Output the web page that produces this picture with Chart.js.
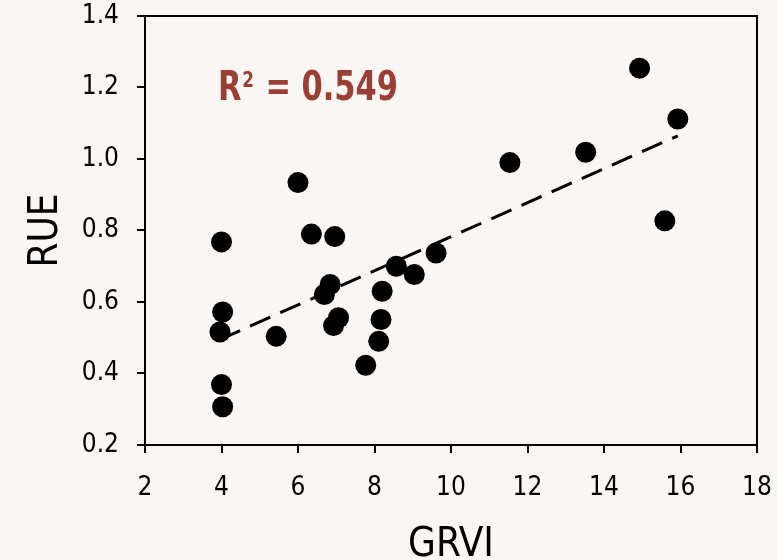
<!DOCTYPE html>
<html>
<head>
<meta charset="utf-8">
<script src="https://cdn.jsdelivr.net/npm/chart.js@4.4.1/dist/chart.umd.min.js"></script>
<style>
  html, body { margin: 0; padding: 0; background: #f9f6f3; }
  #wrap { width: 777px; height: 560px; }
</style>
</head>
<body>
<div id="wrap"><canvas id="rueChart" width="777" height="560"></canvas></div>
<script>
// GRVI vs RUE
const grvi = [4.0, 6.0, 6.35, 6.96, 4.03, 3.96, 5.43, 4.0, 4.03, 6.69, 6.84, 6.93, 7.06,
  8.2, 8.17, 8.11, 7.77, 14.93, 15.93, 13.52, 11.54, 15.59, 9.61, 9.04, 8.57];
const rue = [0.768, 0.934, 0.79, 0.783, 0.572, 0.516, 0.504, 0.369, 0.307, 0.621, 0.649, 0.534, 0.556,
  0.630, 0.551, 0.490, 0.423, 1.254, 1.112, 1.019, 0.990, 0.827, 0.737, 0.677, 0.70];
// ends of the dashed trend line
const trendX = [3.96, 15.93];
const trendY = [0.495, 1.065];
const xTicks = [2, 4, 6, 8, 10, 12, 14, 16, 18];
const yTicks = [0.2, 0.4, 0.6, 0.8, 1.0, 1.2, 1.4];
const r2Label = ["R", "2", " = 0.549"]; // base, superscript, rest

const FONT = "'DejaVu Sans Condensed', 'DejaVu Sans', sans-serif";

const points = grvi.map((x, i) => ({ x: x, y: rue[i] }));
const trend = trendX.map((x, i) => ({ x: x, y: trendY[i] }));

// frame around the plot + R2 text
const framePlugin = {
  id: "frame",
  afterDraw(chart) {
    const { ctx, chartArea: a } = chart;
    ctx.save();
    ctx.strokeStyle = "#000";
    ctx.lineWidth = 2;
    ctx.beginPath();
    ctx.moveTo(a.left, a.top);
    ctx.lineTo(a.right, a.top);
    ctx.lineTo(a.right, a.bottom);
    ctx.stroke();

    ctx.fillStyle = "#9a3f33";
    ctx.textBaseline = "alphabetic";
    const big = "bold 40px " + FONT, small = "bold 22px " + FONT;
    ctx.font = big;
    const w0 = ctx.measureText(r2Label[0]).width, w2 = ctx.measureText(r2Label[2]).width;
    ctx.font = small;
    const w1 = ctx.measureText(r2Label[1]).width + 2;
    ctx.translate(218, 100);
    ctx.scale(180 / (w0 + w1 + w2), 1); // squeeze to the narrow face of the original
    ctx.font = big;
    ctx.fillText(r2Label[0], 0, 0);
    ctx.font = small;
    ctx.fillText(r2Label[1], w0 + 1, -13);
    ctx.font = big;
    ctx.fillText(r2Label[2], w0 + w1, 0);
    ctx.restore();
  }
};

const ctx = document.getElementById("rueChart").getContext("2d");
new Chart(ctx, {
  type: "scatter",
  data: {
    datasets: [{
      label: "RUE",
      data: points,
      backgroundColor: "#000",
      borderColor: "#000",
      borderWidth: 0,
      pointRadius: 10.5,
      pointHoverRadius: 10.5,
      order: 1
    }, {
      type: "line",
      label: "trend",
      data: trend,
      borderColor: "#000",
      borderWidth: 3,
      borderDash: [22, 11],
      pointRadius: 0,
      fill: false,
      order: 2
    }]
  },
  plugins: [framePlugin],
  options: {
    responsive: false,
    animation: false,
    layout: { padding: { top: 16, right: 20, left: 0, bottom: 0 } },
    plugins: { legend: { display: false }, tooltip: { enabled: false } },
    scales: {
      x: {
        type: "linear",
        min: 2, max: 18,
        afterBuildTicks: s => { s.ticks = xTicks.map(v => ({ value: v })); },
        afterFit: s => { s.height = 115; s.paddingLeft = 0; s.paddingRight = 0; },
        border: { display: true, color: "#000", width: 2 },
        grid: { drawOnChartArea: false, drawTicks: true, tickLength: 8, color: "#000", lineWidth: 2 },
        ticks: { color: "#000", padding: 20, font: { family: FONT, size: 26 } },
        title: { display: true, text: "GRVI", color: "#000", padding: { top: 0, bottom: -6 },
          font: { family: FONT, size: 40, lineHeight: 1 } }
      },
      y: {
        type: "linear",
        min: 0.2, max: 1.4,
        afterBuildTicks: s => { s.ticks = yTicks.map(v => ({ value: v })); },
        afterFit: s => { s.width = 145; s.paddingTop = 0; s.paddingBottom = 0; },
        border: { display: true, color: "#000", width: 2 },
        grid: { drawOnChartArea: false, drawTicks: true, tickLength: 8, color: "#000", lineWidth: 2 },
        ticks: { color: "#000", padding: 18, font: { family: FONT, size: 26 },
          callback: v => v.toFixed(1) },
        title: { display: true, text: "RUE", color: "#000", padding: { top: 27, bottom: 0 },
          font: { family: FONT, size: 40, lineHeight: 1 } }
      }
    }
  }
});
</script>
</body>
</html>
